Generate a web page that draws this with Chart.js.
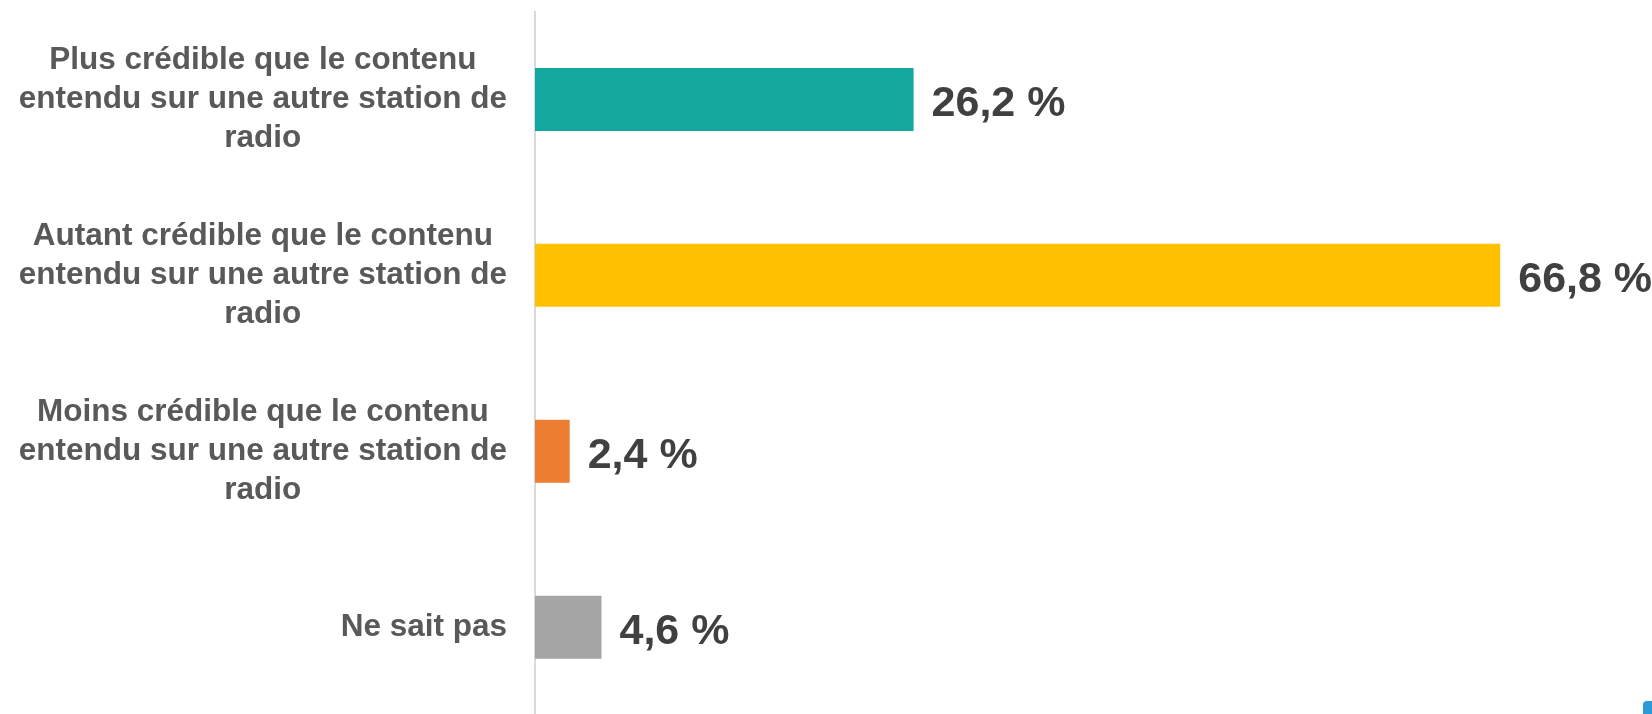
<!DOCTYPE html>
<html>
<head>
<meta charset="utf-8">
<script src="https://cdn.jsdelivr.net/npm/chart.js@4/dist/chart.umd.min.js"></script>
<style>
  html, body { margin: 0; padding: 0; background: #ffffff; overflow: hidden; }
  #wrap { position: relative; width: 1652px; height: 714px; overflow: hidden; }
  canvas { display: block; }
  #corner { position: absolute; left: 1643px; top: 701px; width: 14px; height: 18px; border-radius: 4px; background: #2b9bd8; }
</style>
</head>
<body>
<div id="wrap">
  <canvas id="c" width="1652" height="716"></canvas>
  <div id="corner"></div>
</div>
<script>
// Data
const categories = [
  ["Plus crédible que le contenu", "entendu sur une autre station de", "radio"],
  ["Autant crédible que le contenu", "entendu sur une autre station de", "radio"],
  ["Moins crédible que le contenu", "entendu sur une autre station de", "radio"],
  ["Ne sait pas"]
];
const values = [26.2, 66.8, 2.4, 4.6];
const valueLabels = ["26,2 %", "66,8 %", "2,4 %", "4,6 %"];
const barColors = ["#13A89E", "#FFC000", "#ED7D31", "#A5A5A5"];

const FONT = "'Liberation Sans', Arial, Helvetica, sans-serif";
const TICK_SIZE = 31.5;
const TICK_PAD = 28;
const TICK_COLOR = "#595959";

const isMulti = (lbl) => Array.isArray(lbl) && lbl.length > 1;

// value labels at the end of each bar, and single-line category labels right-aligned
const labelPlugin = {
  id: 'labels',
  afterDatasetsDraw(chart) {
    const ctx = chart.ctx;
    const meta = chart.getDatasetMeta(0);
    ctx.save();
    const size = 43;
    ctx.font = "bold " + size + "px " + FONT;
    ctx.fillStyle = "#404040";
    ctx.textAlign = "left";
    ctx.textBaseline = "alphabetic";
    meta.data.forEach((bar, i) => {
      ctx.fillText(valueLabels[i], bar.x + 18, bar.y + 0.358 * size + 1);
    });
    ctx.restore();
  },
  afterDraw(chart) {
    const ctx = chart.ctx;
    const yScale = chart.scales.y;
    ctx.save();
    ctx.font = "bold " + TICK_SIZE + "px " + FONT;
    ctx.fillStyle = TICK_COLOR;
    ctx.textAlign = "right";
    ctx.textBaseline = "middle";
    categories.forEach((lbl, i) => {
      if (!isMulti(lbl)) {
        const text = Array.isArray(lbl) ? lbl[0] : lbl;
        ctx.fillText(text, yScale.right - TICK_PAD, yScale.getPixelForTick(i));
      }
    });
    ctx.restore();
  }
};

new Chart(document.getElementById('c'), {
  type: 'bar',
  data: {
    labels: categories,
    datasets: [{
      data: values,
      backgroundColor: barColors,
      borderWidth: 0,
      barPercentage: 0.358,
      categoryPercentage: 1
    }]
  },
  options: {
    indexAxis: 'y',
    responsive: false,
    animation: false,
    devicePixelRatio: 1,
    layout: { padding: { top: 11.5, bottom: 0.9, left: 0, right: 4.4 } },
    plugins: { legend: { display: false }, tooltip: { enabled: false } },
    scales: {
      x: { display: false, min: 0, max: 77 },
      y: {
        offset: true,
        grid: { display: false, drawTicks: false },
        border: { display: true, color: "#d9d9d9", width: 2 },
        afterFit(scale) {
          scale.width = 535;
          scale.paddingTop = 0;
          scale.paddingBottom = 0;
        },
        ticks: {
          autoSkip: false,
          crossAlign: 'center',
          padding: TICK_PAD,
          color: TICK_COLOR,
          font: { family: FONT, size: TICK_SIZE, weight: 'bold', lineHeight: 1.235 },
          callback(value, index) {
            const lbl = categories[index];
            return isMulti(lbl) ? lbl : '';
          }
        }
      }
    }
  },
  plugins: [labelPlugin]
});
</script>
</body>
</html>
